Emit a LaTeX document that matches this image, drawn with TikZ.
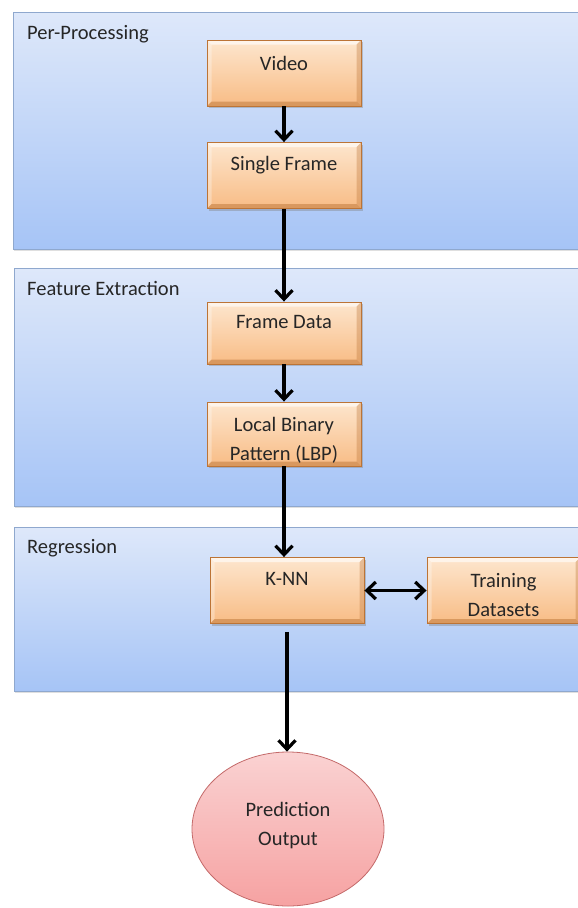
\documentclass[tikz,border=0pt]{standalone}
\usepackage{fontspec}
\setmainfont{Carlito}
\usetikzlibrary{arrows.meta,shadows,shapes.geometric}
\definecolor{paneltop}{HTML}{DEE8FA}
\definecolor{panelbot}{HTML}{A6C4F6}
\definecolor{panelborder}{HTML}{8FA8CE}
\definecolor{boxtop}{HTML}{FDE6CE}
\definecolor{boxbot}{HTML}{F8BC85}
\definecolor{boxborder}{HTML}{BC7436}
\definecolor{elltop}{HTML}{FAD2D2}
\definecolor{ellbot}{HTML}{F6A2A2}
\definecolor{ellborder}{HTML}{C46A6A}
\begin{document}
\begin{tikzpicture}[x=1pt,y=-1pt,
  panel/.style={draw=panelborder,line width=0.8pt,top color=paneltop,bottom color=panelbot,
    drop shadow={opacity=0.25,shadow xshift=1.2pt,shadow yshift=-1.8pt}},
  stepbox/.style={rectangle,draw=boxborder,line width=0.9pt,top color=boxtop,bottom color=boxbot,
    minimum width=154pt,minimum height=66pt,inner sep=0pt,
    drop shadow={opacity=0.4,shadow xshift=1.5pt,shadow yshift=-2.2pt},
    path picture={
      \fill[white,opacity=0.6] (path picture bounding box.north west) -- (path picture bounding box.north east)
        -- ([xshift=-4.5pt,yshift=-4.5pt]path picture bounding box.north east) -- ([xshift=4.5pt,yshift=-4.5pt]path picture bounding box.north west) -- cycle;
      \fill[white,opacity=0.3] (path picture bounding box.north west) -- ([xshift=4.5pt,yshift=-4.5pt]path picture bounding box.north west)
        -- ([xshift=4.5pt,yshift=4.5pt]path picture bounding box.south west) -- (path picture bounding box.south west) -- cycle;
      \fill[boxborder,opacity=0.5] (path picture bounding box.south west) -- (path picture bounding box.south east)
        -- ([xshift=-4.5pt,yshift=4.5pt]path picture bounding box.south east) -- ([xshift=4.5pt,yshift=4.5pt]path picture bounding box.south west) -- cycle;
      \fill[boxborder,opacity=0.35] (path picture bounding box.north east) -- ([xshift=-4.5pt,yshift=-4.5pt]path picture bounding box.north east)
        -- ([xshift=-4.5pt,yshift=4.5pt]path picture bounding box.south east) -- (path picture bounding box.south east) -- cycle;
    }},
  lbl/.style={font=\fontsize{20.5}{29}\selectfont,text=black!85,align=center,inner sep=0pt},
  ptitle/.style={font=\fontsize{20.5}{24}\selectfont,text=black!85,anchor=west,inner sep=0pt},
  arr/.style={draw=black,line width=3.2pt,-{Straight Barb[length=9pt,width=17pt,line width=3.2pt]}},
  darr/.style={draw=black,line width=3.2pt,{Straight Barb[length=9pt,width=17pt,line width=3.2pt]}-{Straight Barb[length=9pt,width=17pt,line width=3.2pt]}},
]
\useasboundingbox (0,0) rectangle (578,908);
\fill[white] (0,0) rectangle (578,908);

% panels
\path[panel] (13,12) rectangle (590,249);
\path[panel] (14,268) rectangle (590,506);
\path[panel] (14,527) rectangle (590,691);
\node[ptitle] (t1) at (27,34) {Per-Processing};
\node[ptitle] (t2) at (27,288) {Feature Extraction};
\node[ptitle] (t3) at (27,548) {Regression};

% boxes
\node[stepbox] (video) at (284,73) {};
\node[stepbox] (single) at (284,175.5) {};
\node[stepbox,minimum height=62pt] (frame) at (284,333) {};
\node[stepbox,minimum height=64pt] (lbp) at (284,434) {};
\node[stepbox] (knn) at (287,590.5) {};
\node[stepbox,minimum width=153pt] (train) at (503.5,590.5) {};
\node[ellipse,draw=ellborder,line width=0.8pt,top color=elltop,bottom color=ellbot,
  minimum width=192pt,minimum height=154pt,inner sep=0pt] (pred) at (288,829) {};

% texts
\node[lbl] (videot) at (284,63) {Video};
\node[lbl] (singlet) at (284,165) {Single Frame};
\node[lbl] (framet) at (284,322) {Frame Data};
\node[lbl] (lbpt) at (284,440) {Local Binary\\Pattern (LBP)};
\node[lbl] (knnt) at (287,579) {K-NN};
\node[lbl] (traint) at (503.5,595) {Training\\Datasets};
\node[lbl] (predt) at (288,826) {Prediction\\Output};

% connectors
\draw[arr] (video) -- (single);
\draw[arr] (single) -- (frame);
\draw[arr] (frame) -- (lbp);
\draw[arr] (lbp.south) -- (lbp.south |- knn.north);
\draw[darr] (knn) -- (train);
\coordinate (kstart) at ([yshift=-8pt]knn.south);
\draw[arr] (kstart) -- (kstart |- pred.north);
\end{tikzpicture}
\end{document}
